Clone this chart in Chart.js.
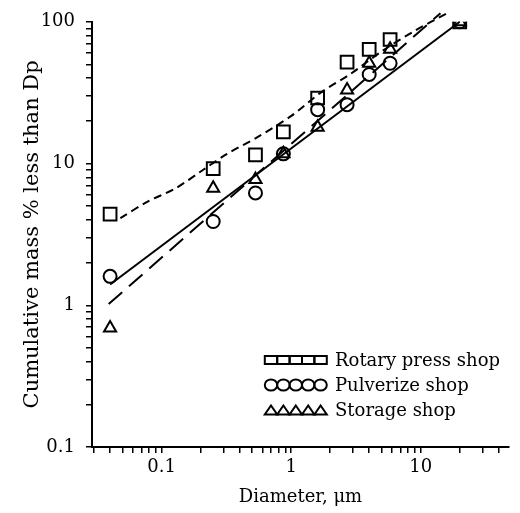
<!DOCTYPE html>
<html>
<head>
<meta charset="utf-8">
<script src="https://cdn.jsdelivr.net/npm/chart.js@4.4.1/dist/chart.umd.min.js"></script>
<style>
html, body { margin: 0; padding: 0; background: #fff; }
</style>
</head>
<body>
<canvas id="chart" width="520" height="513"></canvas>
<script>
// measured points, diameter in um vs cumulative mass %
const diameters = [0.04, 0.25, 0.53, 0.87, 1.6, 2.7, 4.0, 5.8, 20];
const rotaryPress = [4.4, 9.2, 11.5, 16.7, 29, 52, 64, 75, 100];
const pulverize = [1.6, 3.9, 6.2, 11.7, 24, 26, 42.5, 51, 100];
const storage = [0.69, 6.7, 7.7, 11.7, 18, 33, 51, 64, 100];

// fitted curves
const rotaryFitX = [0.048, 0.078, 0.128, 0.208, 0.32, 0.553, 1.01, 1.7, 2.85, 5.06, 8.94, 16];
const rotaryFitY = [4.12, 5.39, 6.68, 9.0, 11.7, 15.4, 21.8, 31.8, 42.7, 62.4, 86.1, 115];
const pulverizeFitX = [0.04, 20];
const pulverizeFitY = [1.4, 100];
const storageFitX = [0.039, 14.2];
const storageFitY = [1.02, 115];

// axis ticks
const xMajor = [0.1, 1, 10];
const xMinor = [0.03, 0.04, 0.05, 0.06, 0.07, 0.08, 0.09, 0.2, 0.3, 0.4, 0.5, 0.6, 0.7, 0.8, 0.9,
    2, 3, 4, 5, 6, 7, 8, 9, 20, 30, 40];
const yMajor = [0.1, 1, 10, 100];
const yMinor = [0.2, 0.3, 0.4, 0.5, 0.6, 0.7, 0.8, 0.9, 2, 3, 4, 5, 6, 7, 8, 9,
    20, 30, 40, 50, 60, 70, 80, 90];

const FONT = "'DejaVu Serif', 'Liberation Serif', serif";

function pairs(xs, ys) {
    return xs.map((x, i) => ({ x: x, y: ys[i] }));
}

function markerSet(label, ys, style, radius) {
    return {
        label: label,
        data: pairs(diameters, ys),
        pointStyle: style,
        pointRadius: radius,
        pointBorderWidth: 2,
        borderColor: "#000",
        backgroundColor: "rgba(0,0,0,0)",
        showLine: false,
        isMarker: true,
    };
}

function fitLine(xs, ys, dash, tension) {
    return {
        data: pairs(xs, ys),
        showLine: true,
        pointRadius: 0,
        borderColor: "#000",
        borderWidth: 2,
        borderDash: dash,
        tension: tension,
        clip: false,
    };
}

function drawMarker(ctx, style, x, y, w, h) {
    ctx.beginPath();
    if (style === "rect") {
        ctx.rect(x - w / 2, y - h / 2, w, h);
    } else if (style === "circle") {
        ctx.ellipse(x, y, w / 2, h / 2, 0, 0, Math.PI * 2);
    } else {
        ctx.moveTo(x, y - h / 2);
        ctx.lineTo(x + w / 2, y + h / 2);
        ctx.lineTo(x - w / 2, y + h / 2);
        ctx.closePath();
    }
    ctx.stroke();
}

// legend with a strip of five markers in front of each label
const stripLegend = {
    id: "stripLegend",
    afterDraw: function (chart) {
        const ctx = chart.ctx;
        const rows = chart.data.datasets.filter((d) => d.isMarker);
        const sizes = { rect: [12.4, 8], circle: [12.4, 11], triangle: [12.4, 9] };
        ctx.save();
        ctx.strokeStyle = "#000";
        ctx.lineWidth = 2;
        ctx.fillStyle = "#000";
        ctx.font = "18px " + FONT;
        ctx.textBaseline = "middle";
        rows.forEach(function (ds, i) {
            const y = 360 + i * 25;
            const s = sizes[ds.pointStyle];
            for (let k = 0; k < 5; k++) {
                drawMarker(ctx, ds.pointStyle, 271 + k * 12.4, y, s[0], s[1]);
            }
            ctx.fillText(ds.label, 335, y + 1);
        });
        ctx.restore();
    },
};

function axisTicks(values) {
    return function (scale) {
        scale.ticks = values.map((v) => ({ value: v }));
    };
}

new Chart(document.getElementById("chart"), {
    type: "scatter",
    data: {
        datasets: [
            markerSet("Rotary press shop", rotaryPress, "rect", 9),
            markerSet("Pulverize shop", pulverize, "circle", 6.5),
            markerSet("Storage shop", storage, "triangle", 7),
            fitLine(rotaryFitX, rotaryFitY, [8, 5], 0.3),
            fitLine(pulverizeFitX, pulverizeFitY, [], 0),
            fitLine(storageFitX, storageFitY, [18, 9], 0),
        ],
    },
    options: {
        responsive: false,
        animation: false,
        layout: { padding: { top: 19, right: 0, left: 0, bottom: 0 } },
        plugins: {
            legend: { display: false },
            tooltip: { enabled: false },
        },
        scales: {
            x: {
                type: "logarithmic",
                min: 0.029,
                max: 48,
                afterBuildTicks: axisTicks(xMajor.concat(xMinor).sort((a, b) => a - b)),
                afterFit: function (scale) {
                    scale.height = 66;
                },
                border: { color: "#000", width: 2 },
                grid: { drawOnChartArea: false, tickLength: 6, color: "#000", lineWidth: 1.5 },
                ticks: {
                    color: "#000",
                    font: { family: FONT, size: 18 },
                    padding: 4,
                    maxRotation: 0,
                    autoSkip: false,
                    callback: (v) => (xMajor.includes(v) ? String(v) : ""),
                },
                title: {
                    display: true,
                    text: "Diameter, μm",
                    color: "#000",
                    font: { family: FONT, size: 18 },
                    padding: { top: 0, bottom: 5 },
                },
            },
            y: {
                type: "logarithmic",
                min: 0.1,
                max: 100,
                afterBuildTicks: axisTicks(yMajor.concat(yMinor).sort((a, b) => a - b)),
                afterFit: function (scale) {
                    scale.width = 92;
                },
                border: { color: "#000", width: 2 },
                grid: { drawOnChartArea: false, tickLength: 6, color: "#000", lineWidth: 1.5 },
                ticks: {
                    color: "#000",
                    font: { family: FONT, size: 18 },
                    padding: 11,
                    autoSkip: false,
                    callback: (v) => (yMajor.includes(v) ? String(v) : ""),
                },
                title: {
                    display: true,
                    text: "Cumulative mass % less than Dp",
                    color: "#000",
                    font: { family: FONT, size: 21 },
                    padding: { top: 20, bottom: 0 },
                },
            },
        },
    },
    plugins: [stripLegend],
});
</script>
</body>
</html>
